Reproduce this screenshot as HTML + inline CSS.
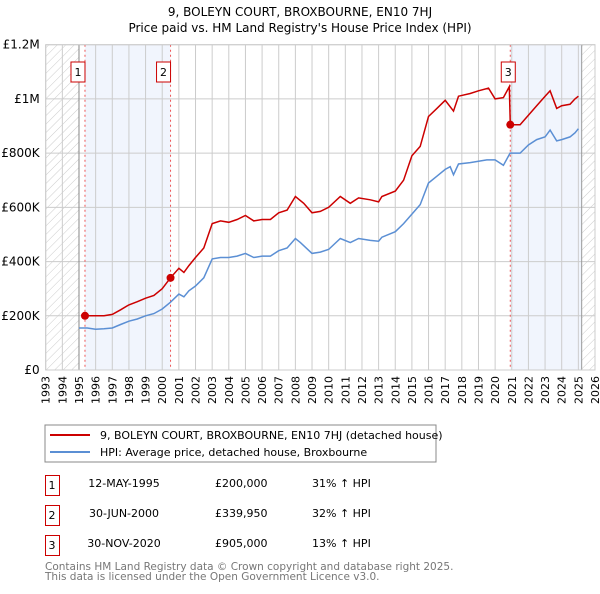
<!DOCTYPE html>
<html><head><meta charset="utf-8"><style>
body{margin:0;width:600px;height:590px;background:#fff;font-family:"DejaVu Sans","Liberation Sans",sans-serif;overflow:hidden}
svg text{font-family:"DejaVu Sans","Liberation Sans",sans-serif}
</style></head><body>
<svg id="chart" width="600" height="590">
<defs><pattern id="hatch" width="6" height="6" patternUnits="userSpaceOnUse" patternTransform="rotate(45)"><line x1="0" y1="0" x2="0" y2="6" stroke="#ccc" stroke-width="1"/></pattern></defs>
<text x="300" y="16" text-anchor="middle" font-size="12">9, BOLEYN COURT, BROXBOURNE, EN10 7HJ</text>
<text x="300" y="32" text-anchor="middle" font-size="12">Price paid vs. HM Land Registry's House Price Index (HPI)</text>
<g id="plot"></g>
<rect x="45" y="425" width="391" height="37" fill="#fff" stroke="#888"/>
<line x1="50" y1="435" x2="90" y2="435" stroke="#cc0000" stroke-width="2"/>
<text x="100" y="439" font-size="11">9, BOLEYN COURT, BROXBOURNE, EN10 7HJ (detached house)</text>
<line x1="50" y1="452" x2="90" y2="452" stroke="#5b8fd4" stroke-width="2"/>
<text x="100" y="456" font-size="11">HPI: Average price, detached house, Broxbourne</text>
<g font-size="11">
<rect x="45.5" y="475.5" width="14" height="20" fill="none" stroke="#c00"/><text x="52" y="489" text-anchor="middle">1</text>
<text x="124" y="487" text-anchor="middle">12-MAY-1995</text><text x="215" y="487">£200,000</text><text x="312" y="487">31% ↑ HPI</text>
<rect x="45.5" y="505.5" width="14" height="20" fill="none" stroke="#c00"/><text x="52" y="519" text-anchor="middle">2</text>
<text x="124" y="517" text-anchor="middle">30-JUN-2000</text><text x="215" y="517">£339,950</text><text x="312" y="517">32% ↑ HPI</text>
<rect x="45.5" y="535.5" width="14" height="20" fill="none" stroke="#c00"/><text x="52" y="549" text-anchor="middle">3</text>
<text x="124" y="547" text-anchor="middle">30-NOV-2020</text><text x="215" y="547">£905,000</text><text x="312" y="547">13% ↑ HPI</text>
</g>
<text x="45" y="570" font-size="10.5" fill="#777">Contains HM Land Registry data © Crown copyright and database right 2025.</text>
<text x="45" y="580" font-size="10.5" fill="#777">This data is licensed under the Open Government Licence v3.0.</text>
</svg>
<script>
const yTicks=[0,200000,400000,600000,800000,1000000,1200000];
const yTickLabels=["£0","£200K","£400K","£600K","£800K","£1M","£1.2M"];
const xYears=[1993,1994,1995,1996,1997,1998,1999,2000,2001,2002,2003,2004,2005,2006,2007,2008,2009,2010,2011,2012,2013,2014,2015,2016,2017,2018,2019,2020,2021,2022,2023,2024,2025,2026];
const saleDates=[1995.36,2000.5,2020.91];
const salePrices=[200000,339950,905000];
const saleLabels=["1","2","3"];
const hpiX=[1995,1995.5,1996,1996.5,1997,1997.5,1998,1998.5,1999,1999.5,2000,2000.5,2001,2001.3,2001.6,2002,2002.5,2003,2003.5,2004,2004.5,2005,2005.5,2006,2006.5,2007,2007.5,2008,2008.3,2009,2009.5,2010,2010.7,2011.3,2011.8,2012.5,2013,2013.2,2014,2014.5,2015,2015.5,2016,2016.5,2017,2017.3,2017.5,2017.8,2018.5,2019,2019.5,2020,2020.5,2020.9,2021.5,2022,2022.5,2023,2023.3,2023.7,2024,2024.5,2024.8,2025];
const hpiY=[155000,155000,150000,152000,155000,168000,180000,188000,200000,208000,225000,250000,280000,270000,292000,310000,340000,410000,415000,415000,420000,430000,415000,420000,420000,440000,450000,485000,470000,430000,435000,445000,485000,470000,485000,478000,475000,490000,510000,540000,575000,610000,690000,715000,740000,750000,720000,760000,765000,770000,775000,775000,755000,800000,800000,830000,850000,860000,885000,845000,850000,860000,875000,890000];
const redX=[1995.36,1996,1996.5,1997,1997.5,1998,1998.5,1999,1999.5,2000,2000.5,2001,2001.3,2001.6,2002,2002.5,2003,2003.5,2004,2004.5,2005,2005.5,2006,2006.5,2007,2007.5,2008,2008.5,2009,2009.5,2010,2010.7,2011.3,2011.8,2012.5,2013,2013.2,2014,2014.5,2015,2015.5,2016,2016.5,2017,2017.5,2017.8,2018.5,2019,2019.6,2020,2020.5,2020.85,2020.91,2021.5,2022,2022.5,2023,2023.3,2023.7,2024,2024.5,2024.8,2025];
const redY=[200000,200000,200000,205000,222000,240000,252000,265000,275000,300000,340000,375000,360000,385000,415000,450000,540000,550000,545000,555000,570000,550000,555000,555000,580000,590000,640000,615000,580000,585000,600000,640000,615000,635000,628000,620000,640000,660000,700000,790000,825000,935000,965000,995000,955000,1010000,1020000,1030000,1040000,1000000,1005000,1045000,905000,905000,940000,975000,1010000,1030000,965000,975000,980000,1000000,1010000];
const X0=45.7,X1=595,Y0=370,Y1=44.7;
const xs=y=>X0+(y-1993)/(2026-1993)*(X1-X0);
const ys=v=>Y0-v/1200000*(Y0-Y1);
const NS="http://www.w3.org/2000/svg";
const g=document.getElementById('plot');
function mk(t,a){const e=document.createElementNS(NS,t);for(const k in a)e.setAttribute(k,a[k]);g.appendChild(e);return e;}
let e;
e=mk('rect',{x:X0,y:Y1,width:xs(1995)-X0,height:Y0-Y1,fill:'url(#hatch)'});


e=mk('rect',{x:xs(2025.2),y:Y1,width:X1-xs(2025.2),height:Y0-Y1,fill:'url(#hatch)'});


e=mk('rect',{x:xs(saleDates[0]),y:Y1,width:xs(saleDates[1])-xs(saleDates[0]),height:Y0-Y1,fill:'#eef3fc',opacity:0.8});


e=mk('rect',{x:xs(saleDates[2]),y:Y1,width:xs(2025.2)-xs(saleDates[2]),height:Y0-Y1,fill:'#eef3fc',opacity:0.8});


xYears.forEach(yr=>{
 e=mk('line',{x1:xs(yr),x2:xs(yr),y1:Y1,y2:Y0,stroke:'#ccc'});
 
 
 const t=mk('text',{transform:`translate(${xs(yr)+4},${Y0+6}) rotate(-90)`,'text-anchor':'end','font-size':'11'});
 t.textContent=yr;
 
 
});
yTicks.forEach((v,i)=>{
 e=mk('line',{x1:X0,x2:X1,y1:ys(v),y2:ys(v),stroke:'#ccc'});
 
 
 const t=mk('text',{x:X0-6,y:ys(v)+4,'text-anchor':'end','font-size':'12'});
 t.textContent=yTickLabels[i];
 
 
});
e=mk('line',{x1:xs(1995),x2:xs(1995),y1:Y1,y2:Y0,stroke:'#888'});


e=mk('line',{x1:xs(2025.2),x2:xs(2025.2),y1:Y1,y2:Y0,stroke:'#999'});


saleDates.forEach((d,i)=>{
 e=mk('line',{x1:xs(d),x2:xs(d),y1:Y1,y2:Y0,stroke:'#e55','stroke-dasharray':'2,3'});
 
 
});
const line=(X,Y)=>X.map((x,i)=>(i?'L':'M')+xs(x).toFixed(1)+','+ys(Y[i]).toFixed(1)).join('');
e=mk('path',{d:line(hpiX,hpiY),fill:'none',stroke:'#5b8fd4','stroke-width':1.5});


e=mk('path',{d:line(redX,redY),fill:'none',stroke:'#cc0000','stroke-width':1.5});


saleDates.forEach((d,i)=>{
 e=mk('circle',{cx:xs(d),cy:ys(salePrices[i]),r:4,fill:'#cc0000'});
 
 
 const cx=i==2?xs(d)-2:xs(d)-7;
 const r=mk('rect',{x:cx-7,y:62,width:14,height:20,fill:'#fff',stroke:'#c00'});
 
 
 const t=mk('text',{x:cx,y:76,'text-anchor':'middle','font-size':'11'});
 t.textContent=saleLabels[i];
 
 
});
e=mk('rect',{x:X0,y:Y1,width:X1-X0,height:Y0-Y1,fill:'none',stroke:'#ccc'});


</script>
</body></html>
